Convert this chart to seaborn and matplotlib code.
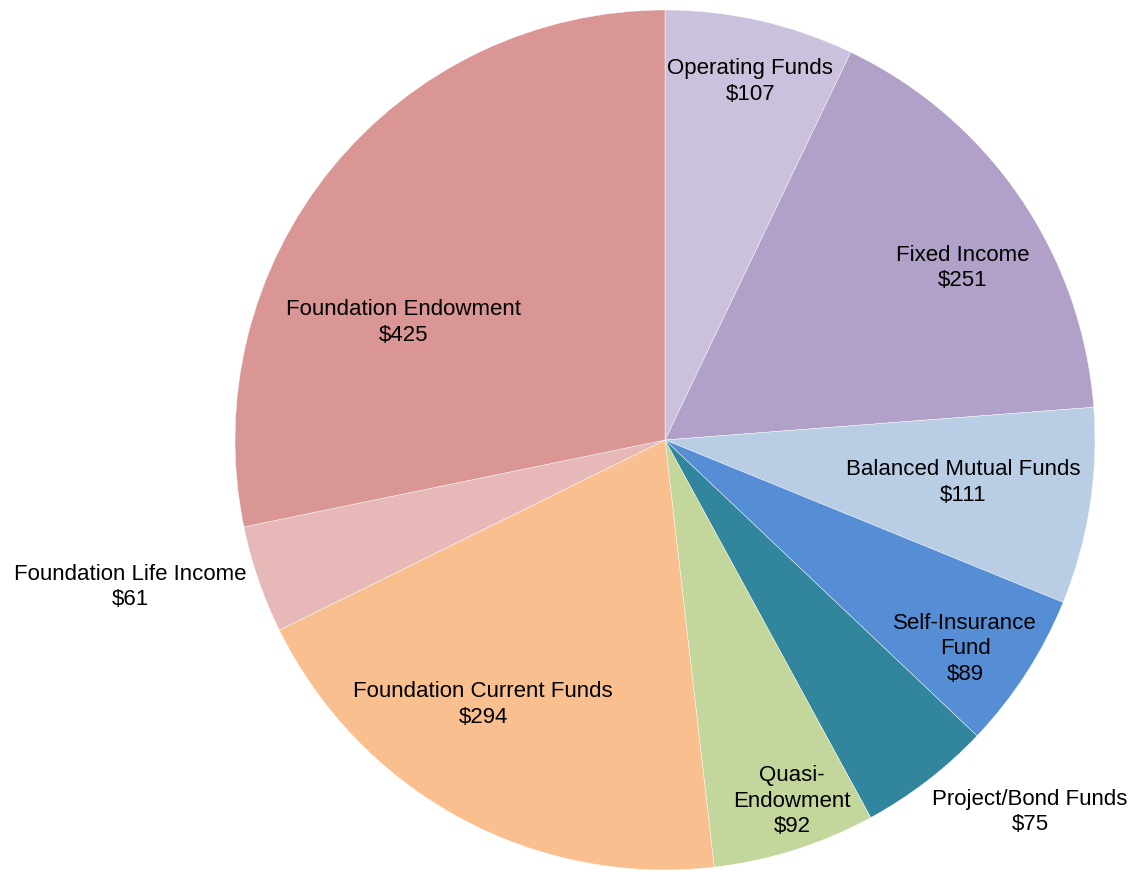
import pandas as pd
import numpy as np
import matplotlib
matplotlib.use("Agg")
import matplotlib.pyplot as plt
import seaborn as sns

# data, clockwise from 12 o'clock
categories = ["Operating Funds", "Fixed Income", "Balanced Mutual Funds",
              "Self-Insurance Fund", "Project/Bond Funds", "Quasi-Endowment",
              "Foundation Current Funds", "Foundation Life Income",
              "Foundation Endowment"]
values = [107, 251, 111, 89, 75, 92, 294, 61, 425]
label_text = ["Operating Funds", "Fixed Income", "Balanced Mutual Funds",
              "Self-Insurance\nFund", "Project/Bond Funds", "Quasi-\nEndowment",
              "Foundation Current Funds", "Foundation Life Income",
              "Foundation Endowment"]
colors = ["#CBC1DC", "#B1A0C7", "#B9CDE5", "#558ED5", "#31859C",
          "#C3D69B", "#F9BF8F", "#E6B9B8", "#D99694"]

# label centres in pie units (radius = 1), Excel "best fit" style
label_x = [0.198, 0.693, 0.693, 0.698, 0.849, 0.295, -0.423, -1.244, -0.609]
label_y = [0.833, 0.400, -0.098, -0.486, -0.865, -0.840, -0.616, -0.342, 0.274]

df = pd.DataFrame({"category": categories, "value": values,
                   "label": label_text, "color": colors,
                   "lx": label_x, "ly": label_y})

sns.set_theme(style="white")
plt.rcParams['font.family'] = ['Liberation Sans', 'DejaVu Sans']

fig = plt.figure(figsize=(11.34, 8.72), dpi=100)
ax = fig.add_axes([235 / 1134, 2 / 872, 860 / 1134, 860 / 872])

ax.pie(df["value"], colors=df["color"], startangle=90, counterclock=False,
       radius=1, wedgeprops=dict(edgecolor="white", linewidth=0.3))

for _, row in df.iterrows():
    ax.text(row["lx"], row["ly"], row["label"] + "\n$" + str(row["value"]),
            ha="center", va="center", fontsize=16, color="black",
            linespacing=1.3)

ax.set_xlim(-1, 1)
ax.set_ylim(-1, 1)
ax.set_aspect("equal")
ax.axis("off")

plt.savefig("out.png", dpi=100)
